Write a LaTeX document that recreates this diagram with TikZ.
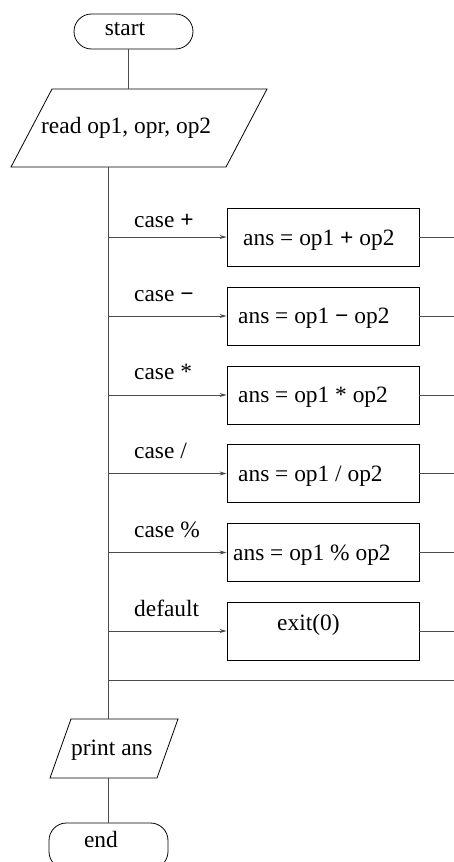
\documentclass[tikz,border=0pt]{standalone}
\usepackage{fontspec}
\setmainfont{Liberation Serif}
\usetikzlibrary{shapes.misc,arrows.meta}

\tikzset{
  txt/.style={font=\fontsize{23.4}{28}\selectfont, inner sep=0pt, anchor=base west},
  term/.style={draw=black, line width=0.8pt, rounded rectangle, minimum width=119pt,
               minimum height=35pt, inner sep=0pt},
  io/.style={draw=black, line width=0.8pt, line join=miter},
  proc/.style={draw=black, line width=0.8pt, rectangle, minimum width=192pt,
               minimum height=58pt, inner sep=0pt},
  conn/.style={draw=black!70, line width=0.9pt},
  arr/.style={conn, -{Stealth[length=7pt,width=4pt]}}
}

\begin{document}
\begin{tikzpicture}[x=1pt,y=-1pt]
  \useasboundingbox (0,0) rectangle (454,862);
  \clip (0,0) rectangle (454,862);

  % trunk position and the merge line on the right
  \coordinate (trk) at (108,0);
  \coordinate (m) at (454,680);

  % start
  \node[term] (start) at (133.5,31.5) {};
  \node[txt, anchor=base] (startT) at (125,35) {start};

  % input parallelogram
  \draw[io] (52,89) coordinate (readTop) -- (267,89) -- (226,167)
            -- (11,167) coordinate (readBot) -- cycle;
  \node[txt] (readT) at (41,133) {read op1, opr, op2};

  % switch branches
  \node[proc] (b1) at (323,237) {};
  \node[proc] (b2) at (323,316) {};
  \node[proc] (b3) at (323,395) {};
  \node[proc] (b4) at (323,473.5) {};
  \node[proc] (b5) at (323,552.5) {};
  \node[proc] (b6) at (323,631) {};

  \node[txt] (t1) at (243,245) {ans = op1 \textbf{+} op2};
  \node[txt] (t2) at (238,323) {ans = op1 \textbf{−} op2};
  \node[txt] (t3) at (238,402) {ans = op1 * op2};
  \node[txt] (t4) at (238,481) {ans = op1 / op2};
  \node[txt] (t5) at (233,560) {ans = op1 \% op2};
  \node[txt] (t6) at (277,630) {exit(0)};

  \node[txt] (l1) at (134,227) {case \textbf{+}};
  \node[txt] (l2) at (134,301) {case \textbf{−}};
  \node[txt] (l3) at (134,379) {case *};
  \node[txt] (l4) at (134,458) {case /};
  \node[txt] (l5) at (134,537) {case \%};
  \node[txt] (l6) at (134,616) {default};

  % output parallelogram
  \draw[io] (71,719) coordinate (printTop) -- (178,719) -- (157,778)
            -- (50,778) coordinate (printBot) -- cycle;
  \node[txt] (printT) at (71,755) {print ans};

  % end (its lower edge runs past the page)
  \node[draw=black, line width=0.8pt, rectangle, rounded corners=17.5pt,
        minimum width=119pt, minimum height=46pt, inner sep=0pt] (end) at (108.5,846) {};
  \node[txt, anchor=base] (endT) at (101,847) {end};

  % connectors
  \draw[conn] ([xshift=-5.5pt]start.south) -- ([xshift=-5.5pt]start.south |- readTop);
  \draw[conn] (trk |- readBot) -- (trk |- printTop);
  \draw[conn] (trk |- printBot) -- (trk |- end.north);
  \foreach \b in {b1,b2,b3,b4,b5,b6}{
    \draw[arr] (trk |- \b.west) -- (\b.west);
    \draw[conn] (\b.east) -- (\b.east -| m);
  }
  \draw[conn] (trk |- m) -- (m);
\end{tikzpicture}
\end{document}
